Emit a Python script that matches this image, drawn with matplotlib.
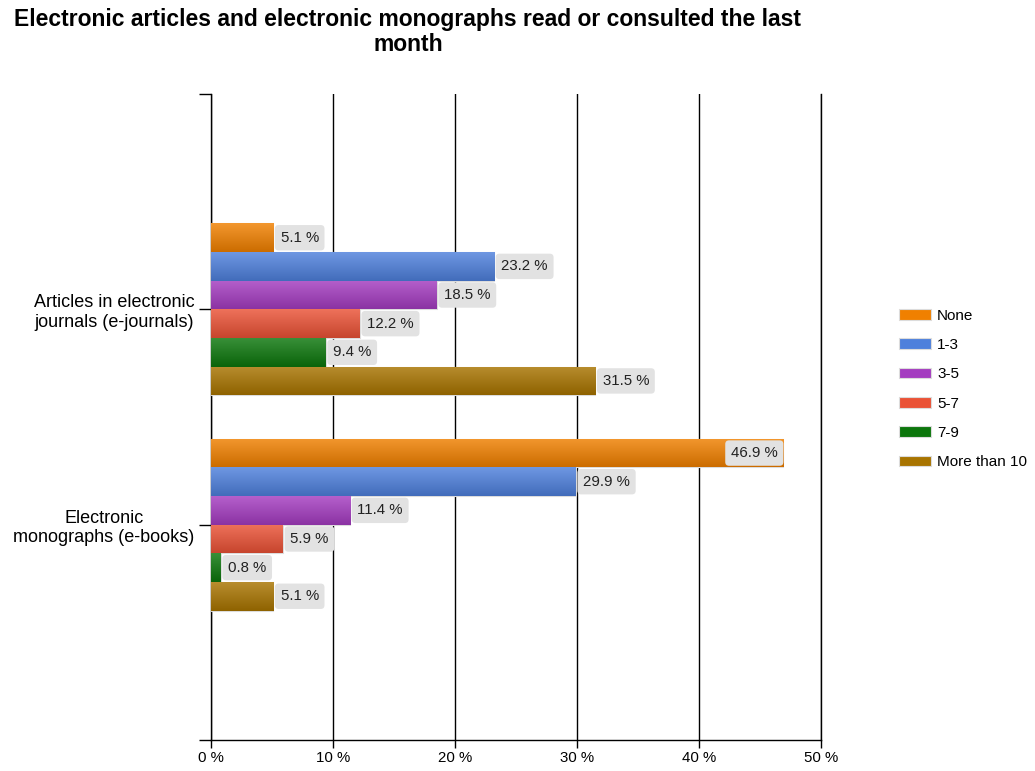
import numpy as np
import matplotlib.pyplot as plt
from matplotlib.colors import to_rgb

plt.rcParams['font.family'] = ['Liberation Sans', 'DejaVu Sans']

title = "Electronic articles and electronic monographs read or consulted the last\nmonth"
categories = ["Articles in electronic\njournals (e-journals)", "Electronic\nmonographs (e-books)"]
series = ["None", "1-3", "3-5", "5-7", "7-9", "More than 10"]
values = [
    [5.1, 46.9],
    [23.2, 29.9],
    [18.5, 11.4],
    [12.2, 5.9],
    [9.4, 0.8],
    [31.5, 5.1],
]
colors = ["#f08000", "#4e80dc", "#a43cc0", "#ea5236", "#0c760c", "#a87400"]
xticks = [0, 10, 20, 30, 40, 50]


def gradient(col):
    # light at the top, darker at the bottom, like the original renderer
    c = np.array(to_rgb(col))
    top = c + (1 - c) * 0.18
    bot = c * 0.85
    t = np.linspace(0, 1, 32)[:, None]
    return (top * (1 - t) + bot * t)[:, None, :]


fig = plt.figure(figsize=(10.35, 7.71), dpi=100)
ax = fig.add_axes([211 / 1035, 1 - 740 / 771, 610 / 1035, 646 / 771])

ypos = np.array([1, 2])
h = 0.133
n = len(series)
for i, (name, vals, col) in enumerate(zip(series, values, colors)):
    y = ypos - n * h / 2 + h * (i + 0.5)
    bars = ax.barh(y, vals, height=h, color=col, edgecolor="#dcdcdc",
                   linewidth=0.8, label=name, zorder=3)
    for b in bars:
        x0, y0 = b.get_x(), b.get_y()
        im = ax.imshow(gradient(col), extent=(x0, x0 + b.get_width(), y0 + h, y0),
                       aspect="auto", zorder=3.5, interpolation="bilinear")
        im.set_clip_path(b)
    for yy, v in zip(y, vals):
        inside = v > 44
        ax.text(v - 0.45 if inside else v + 0.6, yy, f"{v} %", va="center",
                ha="right" if inside else "left", fontsize=10.8,
                color="#222222", zorder=4,
                bbox=dict(boxstyle="round,pad=0.38,rounding_size=0.25",
                          fc="#e2e2e2", ec="none"))

ax.set_xlim(0, 50)
ax.set_ylim(3, 0)
ax.set_xticks(xticks)
ax.set_xticklabels([f"{t} %" for t in xticks], fontsize=10.8)
ax.set_yticks([0, 1, 2, 3])
ax.set_yticklabels(["", categories[0], categories[1], ""], fontsize=13,
                   ha="right", multialignment="center", linespacing=1.2)
ax.tick_params(axis="y", length=9, width=1, pad=3)
ax.tick_params(axis="x", length=6, width=1, pad=2)
ax.grid(axis="x", color="black", linewidth=1, zorder=0)
ax.spines["top"].set_visible(False)
for s in ["left", "right", "bottom"]:
    ax.spines[s].set_linewidth(1)
    ax.spines[s].set_color("black")

fig.text(408 / 1035, 1 - 8 / 771, title, ha="center", va="top",
         fontsize=16.5, fontweight="bold", linespacing=1.12)

ax.legend(loc="center left", bbox_to_anchor=((899 - 211) / 610, (740 - 389) / 646),
          frameon=False, fontsize=11, handlelength=2.1, handleheight=0.7,
          handletextpad=0.4, labelspacing=1.0, borderaxespad=0, borderpad=0)

fig.savefig("out.png", dpi=100)
